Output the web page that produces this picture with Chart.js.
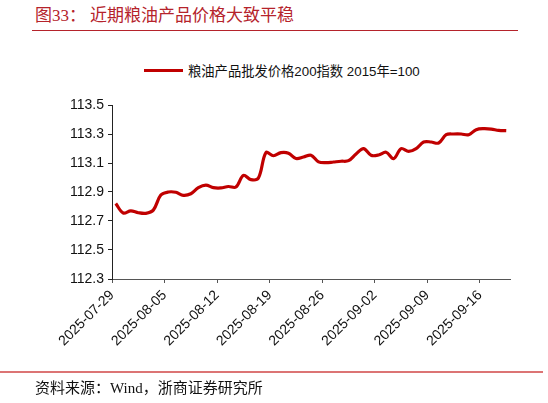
<!DOCTYPE html>
<html lang="zh">
<head>
    <meta charset="utf-8"/>
    <script src="https://cdn.jsdelivr.net/npm/chart.js@4.4.1/dist/chart.umd.min.js"></script>
    <style>
        body { margin: 0; background: #fff; }
        #page { position: relative; width: 548px; height: 403px; overflow: hidden; background: #fff; }
        #chart-wrap { position: absolute; left: 0; top: 0; width: 548px; height: 403px; }
        .title { position: absolute; top: 6px; font: 17px/20px "Liberation Serif", "Noto Sans CJK SC", serif; color: #b5232b; white-space: pre; }
        #title-rule { position: absolute; left: 32px; top: 30px; width: 486px; height: 1px; background: #b5232b; }
        #legend { position: absolute; left: 144px; top: 61px; height: 18px; display: flex; align-items: center;
                  font: 13.3px "Liberation Sans", "Noto Sans CJK SC", sans-serif; color: #111; white-space: pre; }
        #legend .swatch { width: 39px; height: 3px; margin-right: 5px; }
        #foot-rule { position: absolute; left: 0; top: 371px; width: 543px; height: 2px; background: #dc7474; }
        #source { position: absolute; left: 35px; top: 378px; font: 15px/20px "Liberation Serif", "Noto Sans CJK SC", serif; color: #111; white-space: pre; }
    </style>
</head>
<body>
<div id="page">
    <div class="title" style="left:35px">图33：</div>
    <div class="title" style="left:90px">近期粮油产品价格大致平稳</div>
    <div id="title-rule"></div>
    <div id="legend"></div>
    <div id="chart-wrap"><canvas id="chart"></canvas></div>
    <div id="foot-rule"></div>
    <div id="source">资料来源：Wind，浙商证券研究所</div>
</div>
<script>
    // daily series, 2025-07-29 .. 2025-09-19
    const dates = [
        "2025-07-29", "2025-07-30", "2025-07-31", "2025-08-01", "2025-08-02", "2025-08-03", "2025-08-04",
        "2025-08-05", "2025-08-06", "2025-08-07", "2025-08-08", "2025-08-09", "2025-08-10", "2025-08-11",
        "2025-08-12", "2025-08-13", "2025-08-14", "2025-08-15", "2025-08-16", "2025-08-17", "2025-08-18",
        "2025-08-19", "2025-08-20", "2025-08-21", "2025-08-22", "2025-08-23", "2025-08-24", "2025-08-25",
        "2025-08-26", "2025-08-27", "2025-08-28", "2025-08-29", "2025-08-30", "2025-08-31", "2025-09-01",
        "2025-09-02", "2025-09-03", "2025-09-04", "2025-09-05", "2025-09-06", "2025-09-07", "2025-09-08",
        "2025-09-09", "2025-09-10", "2025-09-11", "2025-09-12", "2025-09-13", "2025-09-14", "2025-09-15",
        "2025-09-16", "2025-09-17", "2025-09-18", "2025-09-19"
    ];

    const grainOilIndex = [
        112.820, 112.755, 112.770, 112.757, 112.753, 112.775, 112.879,
        112.900, 112.898, 112.877, 112.888, 112.930, 112.948, 112.930,
        112.928, 112.938, 112.934, 113.015, 112.985, 112.996, 113.172,
        113.150, 113.172, 113.168, 113.131, 113.141, 113.154, 113.108,
        113.102, 113.107, 113.112, 113.116, 113.162, 113.199, 113.153,
        113.155, 113.174, 113.130, 113.199, 113.180, 113.199, 113.245,
        113.245, 113.238, 113.295, 113.300, 113.300, 113.295, 113.330,
        113.337, 113.334, 113.325, 113.323
    ];

    const xTickLabels = ["2025-07-29", "2025-08-05", "2025-08-12", "2025-08-19",
                         "2025-08-26", "2025-09-02", "2025-09-09", "2025-09-16"];
    const yTicks = [112.3, 112.5, 112.7, 112.9, 113.1, 113.3, 113.5];

    const seriesName = "粮油产品批发价格200指数 2015年=100";
    const lineColor = "#c00000";

    // day offset of each date from the first one
    const day0 = Date.parse(dates[0]);
    function dayIndex(d) {
        return Math.round((Date.parse(d) - day0) / 86400000);
    }

    const points = dates.map((d, i) => ({ x: dayIndex(d) + 0.5, y: grainOilIndex[i] }));

    // legend
    const legend = document.getElementById("legend");
    const sw = document.createElement("span");
    sw.className = "swatch";
    sw.style.background = lineColor;
    legend.appendChild(sw);
    legend.appendChild(document.createTextNode(seriesName));

    const tickFont = { family: '"Liberation Sans", Arial, sans-serif', size: 14 };

    new Chart(document.getElementById("chart"), {
        type: "line",
        data: {
            datasets: [{
                label: seriesName,
                data: points,
                borderColor: lineColor,
                backgroundColor: lineColor,
                borderWidth: 3.2,
                pointRadius: 0,
                tension: 0.35,
                fill: false
            }]
        },
        options: {
            responsive: true,
            maintainAspectRatio: false,
            animation: false,
            layout: { padding: { top: 105, right: 38, bottom: 54, left: 0 } },
            plugins: {
                legend: { display: false },
                tooltip: { enabled: false }
            },
            scales: {
                x: {
                    type: "linear",
                    min: 0,
                    max: dayIndex(dates[dates.length - 1]) + 1,
                    afterBuildTicks: function (scale) {
                        scale.ticks = xTickLabels.map(l => ({ value: dayIndex(l) }));
                    },
                    afterFit: function (scale) { scale.height = 70; },
                    ticks: {
                        autoSkip: false,
                        minRotation: 45,
                        maxRotation: 45,
                        color: "#111",
                        font: tickFont,
                        padding: 4,
                        callback: (v, i) => xTickLabels[i]
                    },
                    grid: { drawOnChartArea: false, drawTicks: true, tickLength: 4, color: "#555" },
                    border: { display: true, color: "#555", width: 1 }
                },
                y: {
                    min: 112.3,
                    max: 113.5,
                    afterBuildTicks: function (scale) {
                        scale.ticks = yTicks.map(v => ({ value: v }));
                    },
                    afterFit: function (scale) { scale.width = 112; },
                    ticks: {
                        color: "#111",
                        font: tickFont,
                        padding: 4,
                        callback: v => v.toFixed(1)
                    },
                    grid: { drawOnChartArea: false, drawTicks: true, tickLength: 4, color: "#222" },
                    border: { display: true, color: "#222", width: 1 }
                }
            }
        }
    });
</script>
</body>
</html>
